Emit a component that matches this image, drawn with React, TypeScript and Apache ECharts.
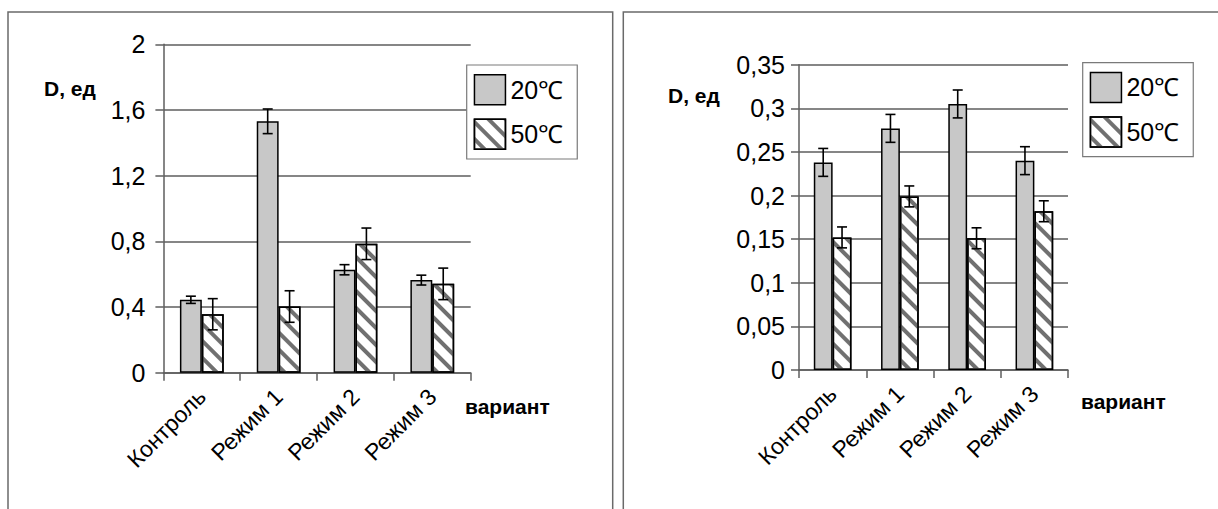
import React, { useEffect, useRef } from "react";
import * as echarts from "echarts";

const categories = ["Контроль", "Режим 1", "Режим 2", "Режим 3"];
const seriesNames = ["20℃", "50℃"];

const left20 = [0.444, 1.531, 0.627, 0.564];
const left20Err = [0.022, 0.075, 0.031, 0.03];
const left50 = [0.356, 0.403, 0.785, 0.541];
const left50Err = [0.095, 0.096, 0.096, 0.096];
const leftTickLabels = ["0", "0,4", "0,8", "1,2", "1,6", "2"];

const right20 = [0.238, 0.277, 0.305, 0.24];
const right20Err = [0.016, 0.016, 0.016, 0.016];
const right50 = [0.152, 0.199, 0.151, 0.182];
const right50Err = [0.012, 0.012, 0.012, 0.012];
const rightTickLabels = ["0", "0,05", "0,1", "0,15", "0,2", "0,25", "0,3", "0,35"];

const yTitle = "D, ед";
const xTitle = "вариант";

const FONT = "'Liberation Sans', Arial, sans-serif";
const GRID_COLOR = "#5e5e5e";

const stripeDecal = {
  symbol: "rect",
  symbolSize: 1,
  color: "#707070",
  dashArrayX: [1, 0],
  dashArrayY: [4, 8],
  rotation: Math.PI / 4,
};

function errSeries(
  name: string,
  vals: number[],
  errs: number[],
  side: number,
  gap: number,
  axisIndex: number
) {
  return {
    type: "custom",
    name,
    xAxisIndex: axisIndex,
    yAxisIndex: axisIndex,
    z: 10,
    silent: true,
    data: vals.map((v, i) => [i, v, errs[i]]),
    renderItem: (params: any, api: any) => {
      const idx = api.value(0);
      const val = api.value(1);
      const err = api.value(2);
      const c = api.coord([idx, val]);
      const band = api.size([1, 0])[0];
      const barW = (band * (1 - gap)) / 2;
      const x = c[0] + (side * barW) / 2;
      const yTop = api.coord([idx, val + err])[1];
      const yBot = api.coord([idx, val - err])[1];
      const cap = 5;
      const style = { stroke: "#000", lineWidth: 1.6 };
      return {
        type: "group",
        children: [
          { type: "line", shape: { x1: x, y1: yTop, x2: x, y2: yBot }, style },
          { type: "line", shape: { x1: x - cap, y1: yTop, x2: x + cap, y2: yTop }, style },
          { type: "line", shape: { x1: x - cap, y1: yBot, x2: x + cap, y2: yBot }, style },
        ],
      };
    },
  };
}

function xAxisCfg(gridIndex: number) {
  return {
    type: "category",
    gridIndex,
    data: categories,
    axisLine: { lineStyle: { color: GRID_COLOR, width: 1.5 } },
    axisTick: { show: true, length: 8, lineStyle: { color: GRID_COLOR, width: 1.5 } },
    axisLabel: {
      rotate: 45,
      interval: 0,
      margin: 20,
      fontSize: 23,
      color: "#000",
      fontFamily: FONT,
    },
  };
}

function yAxisCfg(gridIndex: number, max: number, interval: number, labels: string[], margin: number) {
  return {
    type: "value",
    gridIndex,
    min: 0,
    max,
    interval,
    axisLine: { show: true, lineStyle: { color: GRID_COLOR, width: 1.5 } },
    axisTick: { show: true, length: 8, lineStyle: { color: GRID_COLOR, width: 1.5 } },
    splitLine: { show: true, lineStyle: { color: GRID_COLOR, width: 1.5 } },
    axisLabel: {
      margin,
      fontSize: 25,
      color: "#000",
      fontFamily: FONT,
      formatter: (v: number) => labels[Math.round(v / interval)],
    },
  };
}

function legendCfg(left: number, top: number) {
  return {
    left,
    top,
    orient: "vertical",
    data: seriesNames,
    icon: "rect",
    itemWidth: 31,
    itemHeight: 30,
    itemGap: 13,
    padding: [9, 14, 9, 7],
    backgroundColor: "#fff",
    borderColor: "#7a7a7a",
    borderWidth: 1.2,
    selectedMode: false,
    itemStyle: { borderColor: "#000", borderWidth: 1.5 },
    textStyle: { fontSize: 25, color: "#000", fontFamily: FONT },
  };
}

export default function App() {
  const ref = useRef<HTMLDivElement>(null);
  useEffect(() => {
    if (!ref.current) return;
    const chart = echarts.init(ref.current, undefined, { renderer: "svg" });
    const gapL = 0.43;
    const gapR = 0.44;
    const bar20Style = { color: "#c8c8c8", borderColor: "#000", borderWidth: 1.5 };
    const bar50Style = { color: "#fff", borderColor: "#000", borderWidth: 1.5, decal: stripeDecal };
    chart.setOption({
      animation: false,
      backgroundColor: "#fff",
      grid: [
        { left: 163.4, top: 44.3, width: 307.3, height: 328.4 },
        { left: 799, top: 64.7, width: 269, height: 305.3 },
      ],
      xAxis: [xAxisCfg(0), xAxisCfg(1)],
      yAxis: [
        yAxisCfg(0, 2, 0.4, leftTickLabels, 18),
        yAxisCfg(1, 0.35, 0.05, rightTickLabels, 14),
      ],
      legend: [legendCfg(466.7, 65), legendCfg(1082.7, 62.7)],
      series: [
        {
          type: "bar",
          name: seriesNames[0],
          xAxisIndex: 0,
          yAxisIndex: 0,
          data: left20,
          barGap: "0%",
          barCategoryGap: `${gapL * 100}%`,
          itemStyle: bar20Style,
        },
        {
          type: "bar",
          name: seriesNames[1],
          xAxisIndex: 0,
          yAxisIndex: 0,
          data: left50,
          barGap: "0%",
          barCategoryGap: `${gapL * 100}%`,
          itemStyle: bar50Style,
        },
        {
          type: "bar",
          name: seriesNames[0],
          xAxisIndex: 1,
          yAxisIndex: 1,
          data: right20,
          barGap: "0%",
          barCategoryGap: `${gapR * 100}%`,
          itemStyle: bar20Style,
        },
        {
          type: "bar",
          name: seriesNames[1],
          xAxisIndex: 1,
          yAxisIndex: 1,
          data: right50,
          barGap: "0%",
          barCategoryGap: `${gapR * 100}%`,
          itemStyle: bar50Style,
        },
        errSeries("errL20", left20, left20Err, -1, gapL, 0),
        errSeries("errL50", left50, left50Err, 1, gapL, 0),
        errSeries("errR20", right20, right20Err, -1, gapR, 1),
        errSeries("errR50", right50, right50Err, 1, gapR, 1),
      ],
      graphic: [
        {
          type: "rect",
          shape: { x: 8, y: 12, width: 604.7, height: 600 },
          style: { fill: "none", stroke: "#6a6a6a", lineWidth: 1.5 },
          silent: true,
        },
        {
          type: "rect",
          shape: { x: 623.3, y: 12, width: 700, height: 600 },
          style: { fill: "none", stroke: "#6a6a6a", lineWidth: 1.5 },
          silent: true,
        },
        {
          type: "text",
          x: 44,
          y: 88,
          style: { text: yTitle, font: `bold 21px ${FONT}`, fill: "#000", verticalAlign: "middle" },
        },
        {
          type: "text",
          x: 668,
          y: 95,
          style: { text: yTitle, font: `bold 21px ${FONT}`, fill: "#000", verticalAlign: "middle" },
        },
        {
          type: "text",
          x: 465,
          y: 406.7,
          style: { text: xTitle, font: `bold 21px ${FONT}`, fill: "#000", verticalAlign: "middle" },
        },
        {
          type: "text",
          x: 1081,
          y: 401.7,
          style: { text: xTitle, font: `bold 21px ${FONT}`, fill: "#000", verticalAlign: "middle" },
        },
      ],
    });
    return () => chart.dispose();
  }, []);
  return (
    <div
      ref={ref}
      style={{ position: "fixed", left: 0, top: 0, width: 1218, height: 509, background: "#fff" }}
    />
  );
}
